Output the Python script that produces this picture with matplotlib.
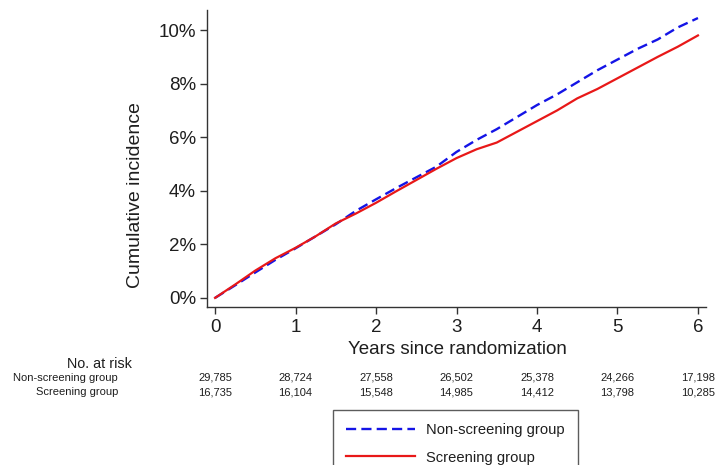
import matplotlib
matplotlib.use("Agg")
import matplotlib.pyplot as plt
from matplotlib.ticker import FuncFormatter
from matplotlib.transforms import blended_transform_factory

plt.rcParams['font.family'] = ['Liberation Sans', 'DejaVu Sans']

years = [0, 0.25, 0.5, 0.75, 1, 1.25, 1.5, 1.75, 2, 2.25, 2.5, 2.75, 3,
         3.25, 3.5, 3.75, 4, 4.25, 4.5, 4.75, 5, 5.25, 5.5, 5.75, 6]
non_screening = [0, 0.47, 0.95, 1.42, 1.85, 2.3, 2.75, 3.25, 3.68, 4.1, 4.5, 4.9, 5.45,
                 5.9, 6.3, 6.75, 7.2, 7.6, 8.05, 8.5, 8.9, 9.3, 9.65, 10.1, 10.45]
screening = [0, 0.5, 1.02, 1.48, 1.87, 2.3, 2.78, 3.15, 3.55, 3.98, 4.4, 4.82, 5.22,
             5.55, 5.8, 6.2, 6.6, 7.0, 7.45, 7.8, 8.2, 8.6, 9.0, 9.38, 9.8]

risk_labels = ["Non-screening group", "Screening group"]
risk_non_screening = ["29,785", "28,724", "27,558", "26,502", "25,378", "24,266", "17,198"]
risk_screening = ["16,735", "16,104", "15,548", "14,985", "14,412", "13,798", "10,285"]

x_ticks = [0, 1, 2, 3, 4, 5, 6]
y_ticks = [0, 2, 4, 6, 8, 10]

W, H = 715, 465
fig = plt.figure(figsize=(W / 100, H / 100), dpi=100)
ax_l, ax_r, ax_t, ax_b = 207, 706, 10, 307
ax = fig.add_axes([ax_l / W, 1 - ax_b / H, (ax_r - ax_l) / W, (ax_b - ax_t) / H])

blue = '#1414E6'
red = '#E81818'
txt = '#1E1E1E'
ln1, = ax.plot(years, non_screening, color=blue, lw=1.7, dashes=(4.3, 2.2),
               label="Non-screening group", zorder=2)
ln2, = ax.plot(years, screening, color=red, lw=1.6, label="Screening group", zorder=3)

ax.set_xlim(-0.1, 6.1)
ax.set_ylim(-0.34, 10.75)
ax.set_xticks(x_ticks)
ax.set_yticks(y_ticks)
ax.yaxis.set_major_formatter(FuncFormatter(lambda v, p: f"{v:.0f}%"))
for s in ['top', 'right']:
    ax.spines[s].set_visible(False)
for s in ['left', 'bottom']:
    ax.spines[s].set_color('#333333')
    ax.spines[s].set_linewidth(1.0)
ax.tick_params(direction='out', length=5, width=1, colors='#333333',
               labelsize=13.5, labelcolor=txt)
ax.tick_params(axis='y', pad=3)
ax.tick_params(axis='x', pad=4)

ax.set_ylabel("Cumulative incidence", fontsize=14, color=txt)
ax.yaxis.set_label_coords((136 - ax_l) / (ax_r - ax_l), (ax_b - 195) / (ax_b - ax_t))
ax.yaxis.label.set_va('center')
ax.set_xlabel("Years since randomization", fontsize=13.5, color=txt)
ax.xaxis.set_label_coords((457 - ax_l) / (ax_r - ax_l), (ax_b - 350) / (ax_b - ax_t))
ax.xaxis.label.set_va('center')

# Number at risk table
fig.text(132 / W, 1 - 364 / H, "No. at risk", ha='right', va='center', fontsize=10.4, color=txt)
tr = blended_transform_factory(ax.transData, fig.transFigure)
for lab, vals, yy in [(risk_labels[0], risk_non_screening, 378), (risk_labels[1], risk_screening, 392)]:
    fig.text(118 / W, 1 - yy / H, lab, ha='right', va='center', fontsize=8, color=txt)
    for xx, v in zip(x_ticks, vals):
        ax.text(xx, 1 - yy / H, v, transform=tr, ha='center', va='center',
                fontsize=8, color=txt, clip_on=False)

leg = fig.legend(handles=[ln1, ln2], loc='upper left',
                 bbox_to_anchor=(333 / W, 1 - 410 / H), bbox_transform=fig.transFigure,
                 fontsize=10.6, frameon=True, fancybox=False, handlelength=4.7,
                 handletextpad=0.75, labelspacing=0.9, borderpad=0.9, borderaxespad=0)
leg.get_frame().set_edgecolor('#333333')
leg.get_frame().set_linewidth(1.0)
for t in leg.get_texts():
    t.set_color(txt)

fig.savefig("out.png", dpi=100)
